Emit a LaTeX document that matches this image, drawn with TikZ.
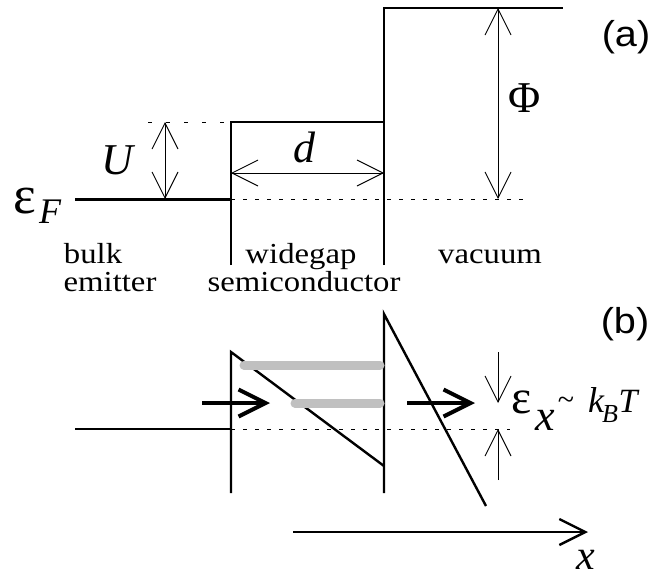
\documentclass[tikz,border=0pt]{standalone}
\usepackage{fontspec}
\setmainfont{Liberation Serif}
\newfontfamily\panelfont{Liberation Sans}
\usetikzlibrary{arrows.meta}
\definecolor{levelgray}{RGB}{192,192,192}

\begin{document}
\begin{tikzpicture}[
    x=1pt, y=-1pt,
    band/.style={line width=2.4pt},
    guide/.style={line width=0.9pt, dash pattern=on 4pt off 8pt},
    dim/.style={{Straight Barb[length=26pt,width=26pt]}-{Straight Barb[length=26pt,width=26pt]}, line width=0.9pt},
    gap/.style={-{Straight Barb[length=26pt,width=26pt]}, line width=0.9pt},
    flow/.style={-{Straight Barb[length=27pt,width=27pt]}, line width=4pt},
    axis/.style={-{Straight Barb[length=26pt,width=26pt]}, line width=2.4pt},
    state/.style={line width=9pt, levelgray, line cap=round},
    region/.style={font=\fontsize{29}{29}\selectfont, xscale=1.13, anchor=base, inner sep=0pt},
    sym/.style={font=\fontsize{44}{44}\selectfont\itshape, anchor=base, inner sep=0pt},
    panel/.style={font=\panelfont\fontsize{36}{36}\selectfont, xscale=1.1, anchor=base, inner sep=0pt}
]
    \useasboundingbox (0,0) rectangle (655,578);

    \draw[band, line width=3pt] (75,199) -- (231,199);
    \draw[band] (231,265) -- (231,122) -- (384,122);
    \draw[band] (384,265) -- (384,8) -- (563,8);
    \draw[guide, dash pattern=on 4pt off 14pt] (148,122) -- (231,122);
    \draw[guide] (231,199) -- (530,199);

    \coordinate (Utop) at (165,122);
    \coordinate (Ubot) at (165,199);
    \coordinate (dleft) at (231,173);
    \coordinate (dright) at (384,173);
    \coordinate (Phitop) at (498,8);
    \coordinate (Phibot) at (498,199);
    \draw[dim] (Utop) -- (Ubot);
    \draw[dim] (dleft) -- (dright);
    \draw[dim] (Phitop) -- (Phibot);

    \node[sym] (U) at (117,174) {U};
    \node[sym] (d) at (304,162) {d};
    \node[sym, font=\fontsize{44}{44}\selectfont] (Phi) at (525,112) {Φ};
    \node[sym, font=\fontsize{54}{54}\selectfont] (epsF) at (25,213) {ε};
    \node[sym, font=\fontsize{36}{36}\selectfont\itshape] (F) at (50,223) {F};
    \node[panel] (pa) at (626,46) {(a)};

    \node[region] (bulk) at (93,263) {bulk};
    \node[region] (emitter) at (110,291) {emitter};
    \node[region] (widegap) at (301,263) {widegap};
    \node[region] (semi) at (304,291) {semiconductor};
    \node[region] (vacuum) at (490,263) {vacuum};

    \draw[band] (75,429) -- (231,429);
    \draw[guide] (231,429) -- (510,429);
    \draw[band] (231,493) -- (231,352) -- (384,466);
    \draw[band] (384,493) -- (384,314) -- (486,506);
    \draw[state] (244,365) -- (380,365);
    \draw[state] (295,403) -- (380,403);

    \coordinate (in1) at (202,403);
    \coordinate (in2) at (270,403);
    \coordinate (out1) at (407,403);
    \coordinate (out2) at (475,403);
    \draw[flow] (in1) -- (in2);
    \draw[flow] (out1) -- (out2);

    \coordinate (gtop) at (498,352);
    \coordinate (gupper) at (498,403);
    \coordinate (gbot) at (498,480);
    \coordinate (glower) at (498,429);
    \draw[gap] (gtop) -- (gupper);
    \draw[gap] (gbot) -- (glower);

    \node[sym, font=\fontsize{48}{48}\selectfont] (epsx) at (522,413) {ε};
    \node[sym] (xsub) at (545,430) {x};
    \node[sym, font=\fontsize{30}{30}\selectfont] (tilde) at (566,409) {\char`\~};
    \node[sym, font=\fontsize{36}{36}\selectfont\itshape] (k) at (596,412) {k};
    \node[sym, font=\fontsize{26}{26}\selectfont\itshape] (B) at (610,422) {B};
    \node[sym, font=\fontsize{34}{34}\selectfont\itshape] (T) at (628,412) {T};
    \node[panel] (pb) at (625,333) {(b)};

    \coordinate (xstart) at (293,532);
    \coordinate (xend) at (588,532);
    \draw[axis] (xstart) -- (xend);
    \node[sym, font=\fontsize{42}{42}\selectfont\itshape] (xlab) at (586,569) {x};
\end{tikzpicture}
\end{document}
